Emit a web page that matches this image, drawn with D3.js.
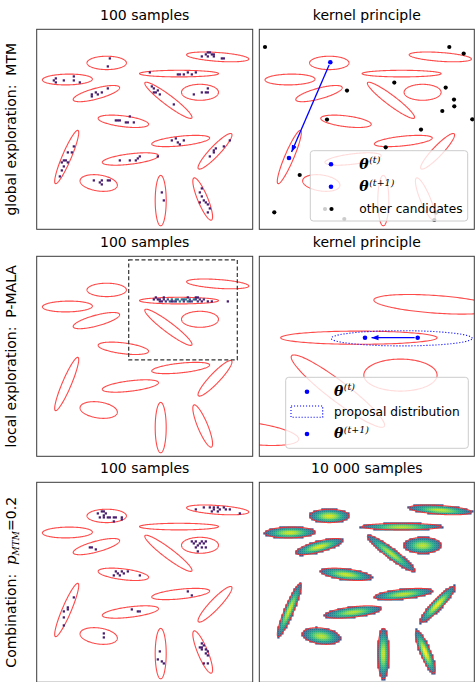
<!DOCTYPE html>
<html>
<head>
<meta charset="utf-8">
<script src="https://cdn.jsdelivr.net/npm/d3@7"></script>
<style>
  body { margin: 0; background: #fff; }
  svg { display: block; }
  text { white-space: pre; }
</style>
</head>
<body>
<svg id="fig" width="476" height="682"></svg>
<script>
// ---------------------------------------------------------------
// Gaussian mixture target: centre x, centre y, semi-axes of the
// drawn contour (major, minor) and rotation in degrees.
// ---------------------------------------------------------------
const components = [
  [3.50, 8.32, 0.985, 0.335, 0],
  [9.05, 8.62, 1.56, 0.22, -4],
  [1.535, 7.49, 1.25, 0.27, 1],
  [7.115, 7.785, 1.975, 0.165, 0],
  [2.985, 6.785, 1.20, 0.27, 15],
  [6.585, 6.45, 1.465, 0.25, -37],
  [8.165, 6.85, 0.925, 0.40, 0],
  [4.335, 5.40, 1.27, 0.27, -7],
  [7.20, 4.415, 1.455, 0.24, 6],
  [8.915, 3.90, 1.205, 0.25, 46.5],
  [1.50, 3.615, 1.445, 0.225, 67],
  [4.685, 3.515, 1.415, 0.26, 7],
  [3.10, 2.315, 0.94, 0.40, -8],
  [6.20, 1.435, 1.26, 0.275, 90],
  [8.30, 1.515, 1.14, 0.25, -67.5]
];
// the drawn contour lies at this many standard deviations
const contourSigma = 2.2;

// 100 samples of the multiple-try Metropolis chain
const mtmSamples = [
  [3.62,8.55],[3.52,8.13],
  [8.27,8.67],[8.42,8.73],[8.55,8.80],[8.67,8.83],[8.73,8.73],[8.82,8.60],[8.80,8.70],[9.20,8.53],[9.30,8.53],[8.50,8.67],
  [0.83,7.42],[0.97,7.50],[0.92,7.37],[1.33,7.45],[1.80,7.67],[1.85,7.42],[2.10,7.37],
  [5.67,7.85],[7.07,7.77],[7.17,7.77],[7.37,7.77],[7.73,7.75],[7.93,7.85],[7.53,7.83],
  [2.75,6.67],[2.77,6.75],[2.98,6.83],[3.08,6.77],[3.27,6.87],[3.52,7.05],
  [5.77,7.17],[5.83,7.00],[5.93,6.83],[6.00,6.93],[6.12,6.77],[6.87,6.25],[5.87,6.80],
  [7.82,6.77],[8.27,6.87],[8.42,6.87],[8.58,7.05],[8.53,6.87],
  [3.97,5.47],[4.08,5.42],[4.17,5.47],[4.47,5.37],[4.57,5.37],[4.67,5.60],[4.82,5.37],
  [6.75,4.45],[6.97,4.50],[7.00,4.35],[7.17,4.27],[7.37,4.47],
  [9.60,4.45],[9.33,4.17],[8.93,4.00],[8.83,3.95],[8.62,3.67],[8.80,3.88],
  [1.80,4.10],[1.55,3.85],[1.78,3.85],[1.33,3.47],[1.40,3.40],[1.50,3.35],[1.35,3.13],[1.27,2.97],[1.17,2.68],[1.25,3.30],
  [4.13,3.47],[4.62,3.47],[4.93,3.47],[5.00,3.50],[5.15,3.67],[6.00,3.67],
  [2.87,2.47],[3.22,2.43],[3.17,2.30],[3.22,2.22],[3.50,2.47],[3.60,2.47],
  [6.22,1.80],[6.30,1.47],
  [8.27,2.08],[8.13,1.87],[8.22,1.67],[8.32,1.47],[8.17,1.30],[8.45,1.30],[8.52,1.20],[8.58,0.80],[8.63,1.03]
];

// P-MALA chain states with their multiplicities (rejected moves repeat a state)
const pmalaStates = [
  [5.85,7.88,1],[6.00,7.80,1],[6.10,7.85,2],[6.20,7.78,1],[6.30,7.82,2],[6.40,7.76,2],[6.50,7.80,3],
  [6.60,7.78,4],[6.70,7.82,5],[6.80,7.76,4],[6.90,7.80,6],[7.00,7.84,5],[7.10,7.78,6],[7.20,7.82,5],
  [7.30,7.88,4],[7.40,7.80,6],[7.50,7.76,5],[7.60,7.84,4],[7.70,7.78,3],[7.80,7.86,5],[7.90,7.80,3],
  [8.00,7.74,2],[8.10,7.84,2],[8.20,7.70,1],[8.35,7.80,2],[8.50,7.74,1],[8.70,7.78,1],[9.55,7.70,1],
  [6.70,7.72,1],[7.30,7.72,2],[7.90,7.92,1],[6.30,7.92,1],[7.55,7.92,1],[6.95,7.72,2],[7.65,7.72,2],
  [8.05,7.90,1],[6.15,7.74,1],[5.95,7.92,1]
];

// 100 samples of the combined sampler (p_MTM = 0.2)
const mixedSamples = [
  [3.08,8.40],[3.20,8.50],[3.33,8.53],[3.42,8.45],[3.17,8.28],[3.30,8.23],[3.37,8.33],[3.67,8.20],[3.80,8.20],[3.97,8.23],[4.25,8.28],[4.25,8.17],[3.83,8.03],[3.53,8.23],
  [7.95,8.62],[8.33,8.70],[8.62,8.70],[8.80,8.78],[8.88,8.62],[9.00,8.70],[9.08,8.57],[9.17,8.67],[9.30,8.70],[9.42,8.67],[9.63,8.62],[10.17,8.45],[8.75,8.57],
  [7.73,7.00],[7.83,6.90],[7.95,7.00],[8.03,6.87],[8.13,6.95],[8.25,7.00],[8.33,6.90],[8.42,7.00],[8.20,6.78],[7.95,6.78],[8.03,6.53],[8.45,6.78],
  [2.67,6.73],[2.75,6.70],[2.97,6.65],
  [3.83,5.37],[3.97,5.50],[4.03,5.40],[4.25,5.50],[4.33,5.40],[4.50,5.53],[5.13,5.33],[4.17,5.37],
  [7.50,4.57],[7.72,4.33],
  [1.80,4.28],[1.53,3.73],[1.58,3.62],[1.37,3.53],[1.33,3.23],[1.35,2.83],
  [4.70,3.65],[5.00,3.53],[5.10,3.50],[5.13,3.57],
  [3.30,2.45],[3.30,2.23],
  [6.12,1.57],[6.08,1.17],[6.20,1.00],[6.32,0.95],
  [8.20,1.90],[8.33,1.87],[8.17,1.70],[8.27,1.62],[8.42,1.65],[8.50,1.53],[8.47,1.40],[8.58,1.37],[8.37,0.95],[8.53,0.95],[8.25,1.78]
];

// MTM kernel illustration: current state, accepted candidate, other candidates
const mtmCurrent = [3.55, 8.35];
const mtmNext = [1.485, 3.565];
const mtmCandidates = [
  [0.285,9.115],[9.50,9.115],[10.22,8.785],[4.385,6.935],[6.75,7.335],[9.32,7.085],
  [9.735,6.485],[9.75,6.15],[9.15,5.915],[10.65,5.50],[3.385,5.485],[8.085,4.985],
  [6.32,4.10],[2.02,2.715],[0.75,0.85],[3.285,1.015],[4.25,0.515],[8.75,0.465],[8.835,0.83]
];

// P-MALA kernel illustration (zoomed window)
const zoomX = [4.60, 10.03];
const zoomY = [4.82, 9.82];
const malaCurrent = [8.60, 7.785];
const malaNext = [7.27, 7.785];
const malaProposal = [8.196, 7.77, 1.78, 0.19, 0];

const totalSamples = 10000;

// Titles
const rowTitles = [["100 samples", "kernel principle"], ["100 samples", "kernel principle"], ["100 samples", "10 000 samples"]];

// ---------------------------------------------------------------
const svg = d3.select("#fig");
const defs = svg.append("defs");
const SANS = "DejaVu Sans";
const SERIF = "DejaVu Serif";
const PANEL_H = 200;
const colX = [36.7, 259.3], colW = [216, 215];
const rowY = [29.3, 256.3, 482.3];
const BIN = 0.1;
const ELL_COLOR = "#ff2a2a";

function panel(r, c, xDom, yDom) {
  const id = `clip-${r}-${c}`;
  const x = d3.scaleLinear().domain(xDom).range([colX[c], colX[c] + colW[c]]);
  const y = d3.scaleLinear().domain(yDom).range([rowY[r] + PANEL_H, rowY[r]]);
  defs.append("clipPath").attr("id", id).append("rect")
    .attr("x", colX[c]).attr("y", rowY[r]).attr("width", colW[c]).attr("height", PANEL_H);
  const g = svg.append("g").attr("clip-path", `url(#${id})`);
  return { x, y, g, r, c };
}

function frame(p) {
  svg.append("rect")
    .attr("x", colX[p.c]).attr("y", rowY[p.r]).attr("width", colW[p.c]).attr("height", PANEL_H)
    .attr("fill", "none").attr("stroke", "#3a3a3a").attr("stroke-width", 1);
}

function ellipsePath(p, cx, cy, rx, ry, deg) {
  const a = deg * Math.PI / 180, n = 160;
  const pts = d3.range(n).map(i => {
    const t = 2 * Math.PI * i / n;
    const ex = rx * Math.cos(t), ey = ry * Math.sin(t);
    return [p.x(cx + ex * Math.cos(a) - ey * Math.sin(a)), p.y(cy + ex * Math.sin(a) + ey * Math.cos(a))];
  });
  return d3.line().curve(d3.curveLinearClosed)(pts);
}

function drawComponents(p) {
  p.g.append("g").selectAll("path").data(components).join("path")
    .attr("d", d => ellipsePath(p, ...d))
    .attr("fill", "none").attr("stroke", ELL_COLOR).attr("stroke-opacity", 0.85).attr("stroke-width", 1.1);
}

function hist(samples) {
  const m = new Map();
  samples.forEach(s => {
    const i = Math.floor(s[0] / BIN + 1e-6), j = Math.floor(s[1] / BIN + 1e-6);
    const k = i + "," + j;
    m.set(k, (m.get(k) || 0) + (s.length > 2 ? s[2] : 1));
  });
  return Array.from(m, ([k, n]) => { const [i, j] = k.split(",").map(Number); return { i, j, n }; });
}

function drawCells(p, cells, color) {
  p.g.append("g").selectAll("rect").data(cells).join("rect")
    .attr("x", d => p.x(d.i * BIN))
    .attr("y", d => p.y((d.j + 1) * BIN))
    .attr("width", d => p.x((d.i + 1) * BIN) - p.x(d.i * BIN) + 0.25)
    .attr("height", d => p.y(d.j * BIN) - p.y((d.j + 1) * BIN) + 0.25)
    .attr("fill", d => color(d.n));
}

// Expected bin counts of totalSamples draws from the equally weighted mixture
function mixtureCells(xMax, yMax) {
  const per = totalSamples / components.length;
  const comps = components.map(([cx, cy, rx, ry, deg]) => {
    const a = deg * Math.PI / 180, s1 = rx / contourSigma, s2 = ry / contourSigma;
    return { cx, cy, c: Math.cos(a), s: Math.sin(a), s1, s2, norm: per / (2 * Math.PI * s1 * s2), reach: rx * 1.6 };
  });
  const nx = Math.round(xMax / BIN), ny = Math.round(yMax / BIN), sub = 4;
  const cells = [];
  for (let i = 0; i < nx; i++) {
    for (let j = 0; j < ny; j++) {
      let acc = 0;
      for (let si = 0; si < sub; si++) for (let sj = 0; sj < sub; sj++) {
        const px = (i + (si + 0.5) / sub) * BIN, py = (j + (sj + 0.5) / sub) * BIN;
        for (const k of comps) {
          const dx = px - k.cx, dy = py - k.cy;
          if (Math.abs(dx) > k.reach || Math.abs(dy) > k.reach) continue;
          const u = (dx * k.c + dy * k.s) / k.s1, v = (-dx * k.s + dy * k.c) / k.s2;
          acc += k.norm * Math.exp(-0.5 * (u * u + v * v));
        }
      }
      const n = acc / (sub * sub) * BIN * BIN;
      if (n >= 1.0) cells.push({ i, j, n });
    }
  }
  return cells;
}

function dots(p, pts, color, r) {
  p.g.append("g").selectAll("circle").data(pts).join("circle")
    .attr("cx", d => p.x(d[0])).attr("cy", d => p.y(d[1])).attr("r", r).attr("fill", color);
}

function arrow(p, from, to, id) {
  defs.append("marker").attr("id", id).attr("viewBox", "0 -3 7 6")
    .attr("markerUnits", "userSpaceOnUse").attr("markerWidth", 7).attr("markerHeight", 6)
    .attr("refX", 7).attr("refY", 0).attr("orient", "auto")
    .append("path").attr("d", "M0,-2.6L7,0L0,2.6Z").attr("fill", "blue");
  const x0 = p.x(from[0]), y0 = p.y(from[1]), x1 = p.x(to[0]), y1 = p.y(to[1]);
  const L = Math.hypot(x1 - x0, y1 - y0), ux = (x1 - x0) / L, uy = (y1 - y0) / L;
  p.g.append("line")
    .attr("x1", x0 + ux * 3).attr("y1", y0 + uy * 3)
    .attr("x2", x1 - ux * 6.5).attr("y2", y1 - uy * 6.5)
    .attr("stroke", "blue").attr("stroke-width", 1.3).attr("marker-end", `url(#${id})`);
}

function legendBox(x0, y0, x1, y1) {
  svg.append("rect").attr("x", x0).attr("y", y0).attr("width", x1 - x0).attr("height", y1 - y0)
    .attr("rx", 3).attr("fill", "white").attr("fill-opacity", 0.8)
    .attr("stroke", "#cccccc").attr("stroke-width", 1);
}

function thetaLabel(x, y, sup) {
  const t = svg.append("text").attr("x", x).attr("y", y).attr("fill", "#000");
  t.append("tspan").text("θ").attr("font-family", SERIF).attr("font-weight", "bold")
    .attr("font-style", "italic").attr("font-size", 14);
  t.append("tspan").text(sup).attr("font-family", SERIF).attr("font-style", "italic")
    .attr("font-size", 9.5).attr("dx", 0.5).attr("dy", -5.5);
}

function plainLabel(x, y, s) {
  svg.append("text").attr("x", x).attr("y", y).attr("font-family", SANS).attr("font-size", 12.2)
    .attr("fill", "#000").text(s);
}

// ---------------------------------------------------------------
const sampleColor = d3.scaleSequential(d3.interpolateViridis).domain([0, 14]);
const fullX = c => [0, colW[c] / 20];
const fullY = [0, 10];

// Row 1: global exploration (MTM)
const p00 = panel(0, 0, fullX(0), fullY);
drawComponents(p00);
drawCells(p00, hist(mtmSamples), sampleColor);
frame(p00);

const p01 = panel(0, 1, fullX(1), fullY);
drawComponents(p01);
dots(p01, mtmCandidates, "#000", 2.1);
arrow(p01, mtmCurrent, mtmNext, "arrow-mtm");
dots(p01, [mtmCurrent, mtmNext], "blue", 2.3);
frame(p01);
legendBox(310.3, 150.7, 467.7, 221);
svg.append("circle").attr("cx", 331).attr("cy", 164.3).attr("r", 2.3).attr("fill", "blue");
svg.append("circle").attr("cx", 331).attr("cy", 186.7).attr("r", 2.3).attr("fill", "blue");
svg.append("circle").attr("cx", 331.5).attr("cy", 209).attr("r", 2.1).attr("fill", "#000");
thetaLabel(359.3, 168.5, "(t)");
thetaLabel(359.3, 191, "(t+1)");
plainLabel(359.3, 212.8, "other candidates");

// Row 2: local exploration (P-MALA)
const p10 = panel(1, 0, fullX(0), fullY);
drawComponents(p10);
drawCells(p10, hist(pmalaStates), sampleColor);
frame(p10);
svg.append("rect")
  .attr("x", p10.x(zoomX[0])).attr("y", p10.y(zoomY[1]))
  .attr("width", p10.x(zoomX[1]) - p10.x(zoomX[0])).attr("height", p10.y(zoomY[0]) - p10.y(zoomY[1]))
  .attr("fill", "none").attr("stroke", "#333").attr("stroke-width", 1.2).attr("stroke-dasharray", "4,2.4");

const p11 = panel(1, 1, zoomX, zoomY);
drawComponents(p11);
p11.g.append("path").attr("d", ellipsePath(p11, ...malaProposal))
  .attr("fill", "none").attr("stroke", "blue").attr("stroke-width", 1.1).attr("stroke-dasharray", "1.1,1.9");
arrow(p11, malaCurrent, malaNext, "arrow-mala");
dots(p11, [malaCurrent, malaNext], "blue", 2.3);
frame(p11);
legendBox(285.7, 377.3, 468.3, 448.3);
svg.append("circle").attr("cx", 307).attr("cy", 391.7).attr("r", 2.3).attr("fill", "blue");
svg.append("rect").attr("x", 291).attr("y", 406).attr("width", 31.7).attr("height", 11.3)
  .attr("fill", "none").attr("stroke", "blue").attr("stroke-width", 1.1).attr("stroke-dasharray", "1.1,1.9");
svg.append("circle").attr("cx", 307).attr("cy", 434).attr("r", 2.3).attr("fill", "blue");
thetaLabel(334, 395.8, "(t)");
plainLabel(334, 415.8, "proposal distribution");
thetaLabel(334, 438.3, "(t+1)");

// Row 3: combination
const p20 = panel(2, 0, fullX(0), fullY);
drawComponents(p20);
drawCells(p20, hist(mixedSamples), sampleColor);
frame(p20);

const p21 = panel(2, 1, fullX(1), fullY);
const dens = mixtureCells(fullX(1)[1], 10);
// square-root colour stretch so the bulk of each mode reads green
const densColor = d3.scaleSequentialSqrt(d3.interpolateViridis).domain([0, d3.max(dens, d => d.n)]);
drawCells(p21, dens, densColor);
drawComponents(p21);
frame(p21);

// Titles
const titleY = [19.5, 246.5, 473.2];
rowTitles.forEach((pair, r) => pair.forEach((t, c) => {
  svg.append("text").attr("x", colX[c] + colW[c] / 2).attr("y", titleY[r])
    .attr("text-anchor", "middle").attr("font-family", SANS).attr("font-size", 14).attr("fill", "#000").text(t);
}));

// Row labels
function rowLabel(r) {
  const cy = rowY[r] + PANEL_H / 2;
  return svg.append("text").attr("transform", `translate(15.5,${cy}) rotate(-90)`)
    .attr("text-anchor", "middle").attr("font-family", SANS).attr("font-size", 14).attr("fill", "#000");
}
rowLabel(0).text("global exploration:  MTM");
rowLabel(1).text("local exploration:  P-MALA");
const l3 = rowLabel(2);
l3.append("tspan").text("Combination:  ");
l3.append("tspan").text("p").attr("font-family", SERIF).attr("font-style", "italic").attr("font-size", 15);
l3.append("tspan").text("MTM").attr("font-family", SERIF).attr("font-style", "italic").attr("font-size", 9).attr("dy", 3);
l3.append("tspan").text("=0.2").attr("dy", -3);
</script>
</body>
</html>
